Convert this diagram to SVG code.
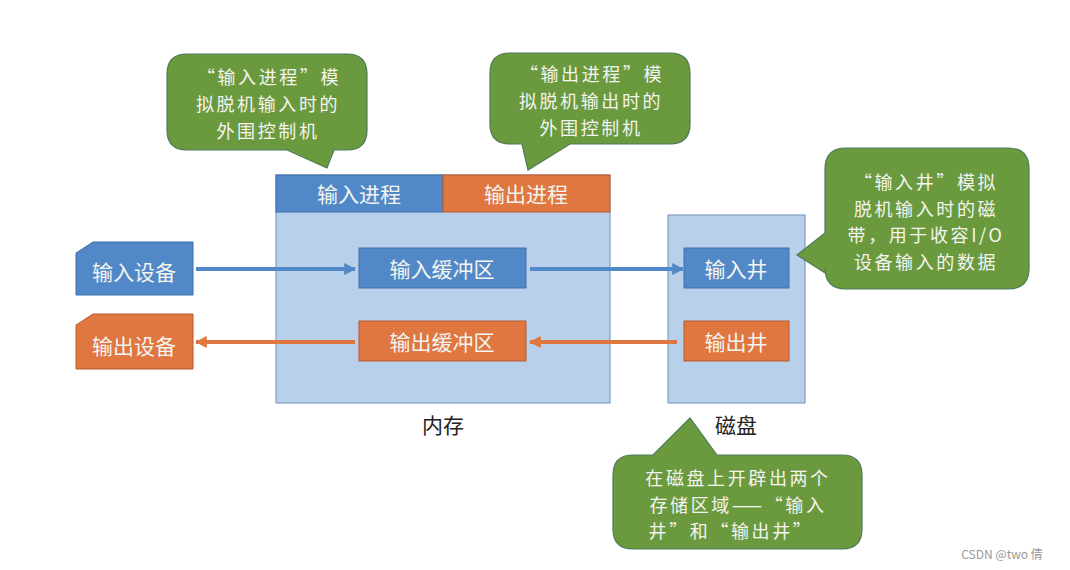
<svg xmlns="http://www.w3.org/2000/svg" width="1070" height="570" viewBox="0 0 1070 570">
<style>
text{font-family:"Noto Sans CJK SC","Liberation Sans",sans-serif;font-size:21px;text-anchor:middle;dominant-baseline:central}
.w{fill:#f4f4f0}
.c{font-size:18px;letter-spacing:2.6px}
.k{fill:#222}
.blue{fill:#5189c8;stroke:#3f6fa8;stroke-width:1}
.orange{fill:#e07640;stroke:#b85a2c;stroke-width:1}
.light{fill:#b9d0ea;stroke:#6f8fb8;stroke-width:1}
.call{fill:#6b9a3e;stroke:#4f7a5a;stroke-width:1.2}
.ab{stroke:#5189c8;stroke-width:4;fill:none}
.ao{stroke:#e07640;stroke-width:4;fill:none}
</style>
<defs>
<marker id="mb" viewBox="0 0 10 10" refX="9" refY="5" markerWidth="3" markerHeight="3.5" orient="auto"><path d="M0,0 L10,5 L0,10 z" fill="#5189c8"/></marker>
<marker id="mo" viewBox="0 0 10 10" refX="9" refY="5" markerWidth="3" markerHeight="3.5" orient="auto"><path d="M0,0 L10,5 L0,10 z" fill="#e07640"/></marker>
</defs>
<rect width="1070" height="570" fill="#fff"/>

<g id="memory">
<rect class="light" x="276" y="175" width="334" height="228"/>
<text class="k" x="443" y="424">内存</text>
</g>
<g id="input-process">
<rect class="blue" x="276" y="175" width="167" height="37"/>
<text class="w" x="359" y="193">输入进程</text>
</g>
<g id="output-process">
<rect class="orange" x="443" y="175" width="167" height="37"/>
<text class="w" x="526" y="193">输出进程</text>
</g>
<g id="input-buffer">
<rect class="blue" x="359" y="248" width="167" height="40"/>
<text class="w" x="442" y="268">输入缓冲区</text>
</g>
<g id="output-buffer">
<rect class="orange" x="359" y="321" width="167" height="40"/>
<text class="w" x="442" y="341">输出缓冲区</text>
</g>

<g id="disk">
<rect class="light" x="668" y="215" width="137" height="188"/>
<text class="k" x="736" y="424">磁盘</text>
</g>
<g id="input-well">
<rect class="blue" x="684" y="248" width="105" height="40"/>
<text class="w" x="736" y="268">输入井</text>
</g>
<g id="output-well">
<rect class="orange" x="684" y="321" width="105" height="40"/>
<text class="w" x="736" y="341">输出井</text>
</g>

<g id="input-device">
<path class="blue" d="M76,253 L93,242 L193,242 L193,295 L76,295 Z"/>
<text class="w" x="134" y="271">输入设备</text>
</g>
<g id="output-device">
<path class="orange" d="M76,325 L93,314 L193,314 L193,369 L76,369 Z"/>
<text class="w" x="134" y="345">输出设备</text>
</g>

<g id="connectors">
<line class="ab" x1="196" y1="269" x2="355" y2="269" marker-end="url(#mb)"/>
<line class="ab" x1="530" y1="269" x2="683" y2="269" marker-end="url(#mb)"/>
<line class="ao" x1="677" y1="342" x2="530" y2="342" marker-end="url(#mo)"/>
<line class="ao" x1="355" y1="342" x2="196" y2="342" marker-end="url(#mo)"/>
</g>

<g id="callout-input-process">
<path class="call" d="M187,54 H347 Q367,54 367,74 V130 Q367,150 347,150 H334 L327,168 L287,150 H187 Q167,150 167,130 V74 Q167,54 187,54 Z"/>
<text class="w c" x="269" y="76">“输入进程”模</text>
<text class="w c" x="268" y="103">拟脱机输入时的</text>
<text class="w c" x="268" y="130">外围控制机</text>
</g>
<g id="callout-output-process">
<path class="call" d="M510,53 H670 Q690,53 690,73 V124 Q690,144 670,144 H570 L528,170 L522,144 H510 Q490,144 490,124 V73 Q490,53 510,53 Z"/>
<text class="w c" x="592" y="73">“输出进程”模</text>
<text class="w c" x="591" y="100">拟脱机输出时的</text>
<text class="w c" x="591" y="127">外围控制机</text>
</g>
<g id="callout-input-well">
<path class="call" d="M846,148 H1008 Q1029,148 1029,169 V268 Q1029,289 1008,289 H846 Q825,289 825,268 V273 L797,255 L825,233 V169 Q825,148 846,148 Z"/>
<text class="w c" x="926" y="181">“输入井”模拟</text>
<text class="w c" x="926" y="207.5">脱机输入时的磁</text>
<text class="w c" x="926" y="234">带，用于收容I/O</text>
<text class="w c" x="926" y="260.5">设备输入的数据</text>
</g>
<g id="callout-disk">
<path class="call" d="M633,455 H653 L690,418 L717,455 H842 Q862,455 862,475 V529 Q862,549 842,549 H633 Q613,549 613,529 V475 Q613,455 633,455 Z"/>
<text class="w c" x="738" y="477">在磁盘上开辟出两个</text>
<text class="w c" x="738" y="503.5">存储区域——“输入</text>
<text class="w c" x="731" y="530">井”和“输出井”</text>
</g>

<text x="1002" y="553" style="font-size:12px;fill:#999">CSDN @two 倩</text>
</svg>
